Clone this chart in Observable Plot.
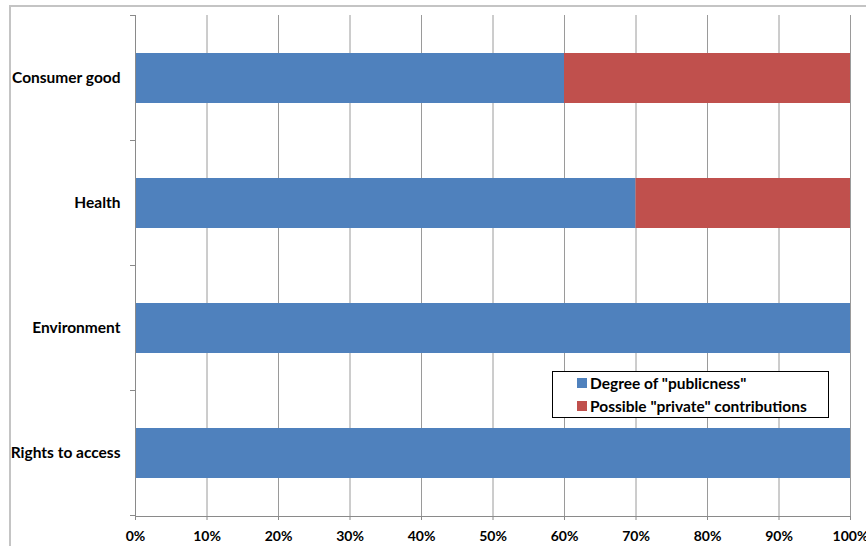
<!DOCTYPE html>
<html><head><meta charset="utf-8">
<script src="https://cdn.jsdelivr.net/npm/d3@7"></script>
<script src="https://cdn.jsdelivr.net/npm/@observablehq/plot@0.6"></script>
<style>
body{margin:0;background:#fff;}
#wrap{position:relative;width:866px;height:546px;overflow:hidden;font-family:Lato,"Open Sans",sans-serif;}
#frame{position:absolute;left:9px;top:5px;width:900px;height:600px;border:2px solid #c4c4c4;box-sizing:border-box;pointer-events:none;}
#legend{position:absolute;left:552px;top:371px;width:277px;height:47px;border:1px solid #000;box-sizing:border-box;background:#fff;font-weight:bold;font-size:15.5px;color:#000;}
.li{position:absolute;left:24px;display:flex;align-items:center;white-space:nowrap;line-height:18px;}
.sw{width:10px;height:10px;margin-right:3px;}
svg text{font-family:Lato,"Open Sans",sans-serif;}
</style></head>
<body><div id="wrap"><div id="frame"></div></div>
<script>
const categories = ["Consumer good","Health","Environment","Rights to access"];
const seriesNames = ['Degree of "publicness"','Possible "private" contributions'];
const publicness = [0.60, 0.70, 1.00, 1.00];
const privateContrib = [0.40, 0.30, 0.00, 0.00];
const xTicks = [0,0.1,0.2,0.3,0.4,0.5,0.6,0.7,0.8,0.9,1.0];
const colors = ["#4F81BD","#C0504D"];

const data = [];
categories.forEach((c,i)=>{
  data.push({cat:c, series:seriesNames[0], value:publicness[i]});
  if (privateContrib[i] > 0) data.push({cat:c, series:seriesNames[1], value:privateContrib[i]});
});

const chart = Plot.plot({
  width:866, height:546,
  marginLeft:135, marginRight:16, marginTop:15, marginBottom:30,
  style:{fontFamily:"Lato, 'Open Sans', sans-serif", fontWeight:"bold", fontSize:"14px", color:"#000", background:"transparent"},
  x:{domain:[0,1], label:null},
  y:{domain:categories, paddingInner:0.6, paddingOuter:0.3, label:null},
  color:{domain:seriesNames, range:colors},
  marks:[
    Plot.gridX(xTicks.slice(1), {stroke:"#9a9a9a", strokeOpacity:1, strokeWidth:1}),
    Plot.barX(data, Plot.stackX({x:"value", y:"cat", fill:"series", order:seriesNames})),
    Plot.ruleX([0], {stroke:"#8a8a8a", strokeWidth:1}),
    Plot.frame({anchor:"bottom", stroke:"#8a8a8a"}),
    Plot.axisX(xTicks, {tickFormat:d3.format(".0%"), tickSize:4, tickPadding:11, stroke:"#8a8a8a", fontWeight:"bold", fontSize:14, fill:"#000", label:null}),
    Plot.axisY({tickSize:0, tickPadding:15, fontWeight:"bold", fontSize:15.5, fill:"#000", label:null})
  ]
});

// category boundary ticks on the y axis, from the y scale
const ys = chart.scale("y");
const step = ys.step, svg = d3.select(chart);
const bw = ys.bandwidth;
categories.forEach((c,i)=>{
  const top = ys.apply(c) - (step - bw)/2;
  svg.append("line").attr("x1",130).attr("x2",135).attr("y1",top).attr("y2",top).attr("stroke","#8a8a8a");
  if(i===categories.length-1){
    const b = top+step;
    svg.append("line").attr("x1",130).attr("x2",135).attr("y1",b).attr("y2",b).attr("stroke","#8a8a8a");
  }
});

const wrap = document.getElementById("wrap");
wrap.insertBefore(chart, wrap.firstChild);
const leg = document.createElement("div");
leg.id="legend";
seriesNames.forEach((s,i)=>{
  const d=document.createElement("div");d.className="li";d.style.top=(i===0?2:25)+"px";
  d.innerHTML=`<div class="sw" style="background:${colors[i]}"></div><span></span>`;
  d.querySelector("span").textContent=s;
  leg.appendChild(d);
});
wrap.appendChild(leg);
</script></body></html>
